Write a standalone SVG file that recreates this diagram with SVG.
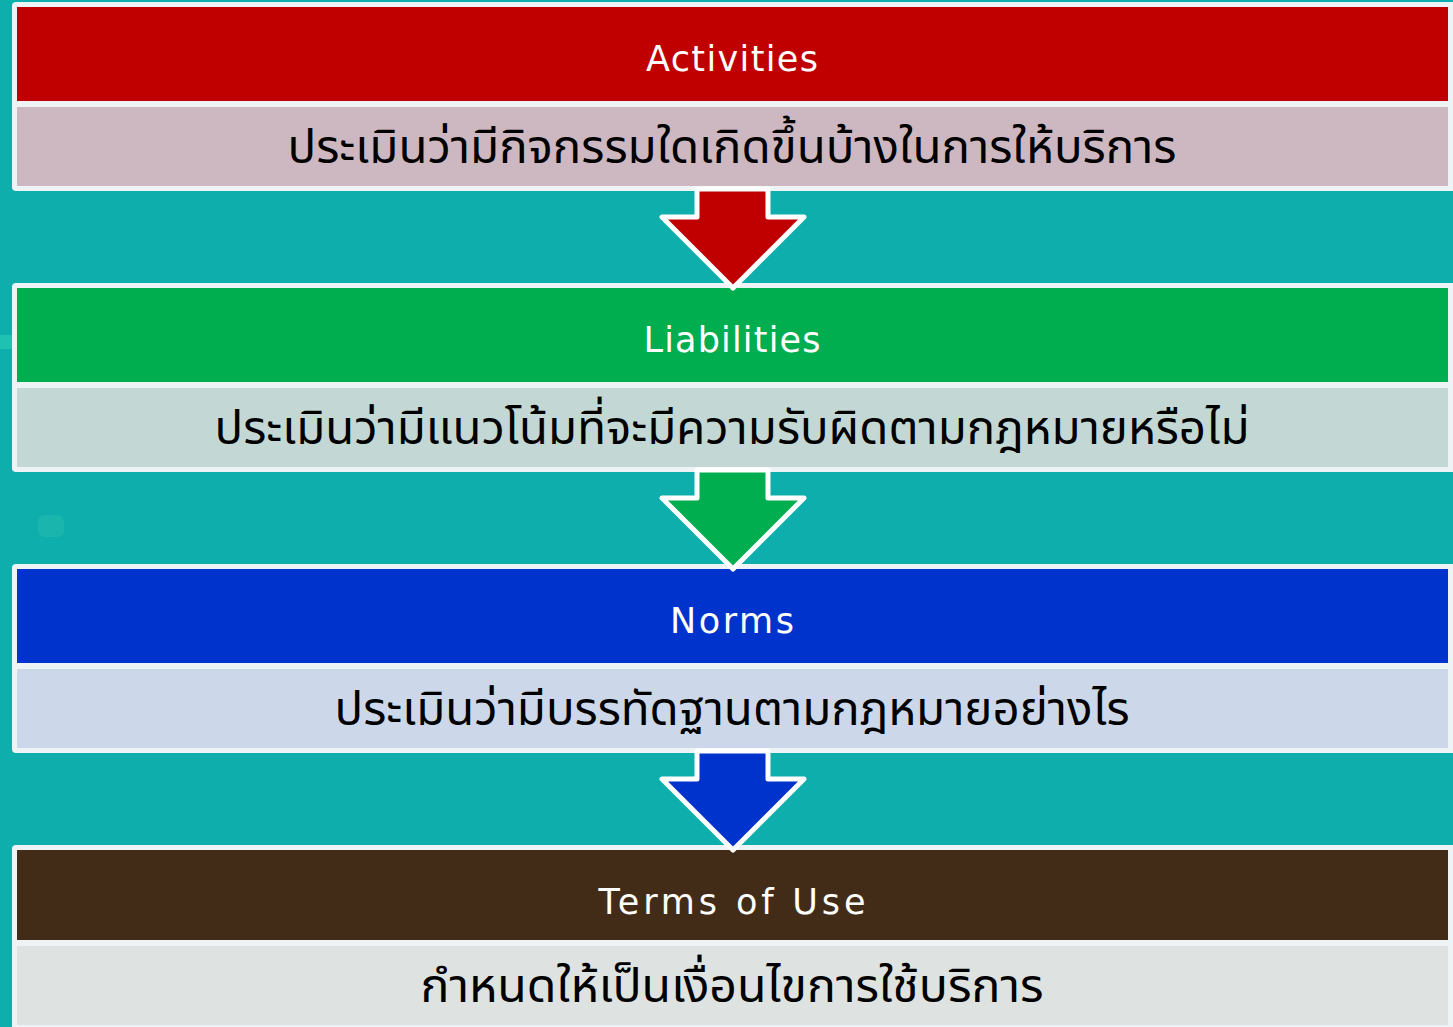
<svg xmlns="http://www.w3.org/2000/svg" width="1453" height="1027" viewBox="0 0 1453 1027">
<style>
.frame{fill:#eef3f5}
.hd{font-family:"DejaVu Sans","Liberation Sans",sans-serif;font-size:35px;fill:#ffffff;text-anchor:middle}
.bd{font-family:"Noto Sans Thai","Noto Sans","DejaVu Sans",sans-serif;font-size:47px;fill:#000000;text-anchor:middle}
.arr{stroke:#ffffff;stroke-width:5;stroke-linejoin:round}
</style>
<rect x="0" y="0" width="1453" height="1027" fill="#0eaead"/>
<rect x="0" y="335" width="12" height="14" fill="#2fd3b8" opacity="0.5"/>
<rect x="38" y="515" width="26" height="22" rx="6" fill="#3fcfb0" opacity="0.25"/>
<g id="activities">
<rect class="frame" x="12" y="2" width="1450" height="189" rx="4"/>
<rect x="17" y="7" width="1431" height="94" fill="#c00000"/>
<rect x="17" y="107" width="1431" height="79" fill="#cdb8c1"/>
<text class="hd" x="732" y="71" textLength="172" lengthAdjust="spacing">Activities</text>
<text class="bd" x="732" y="163" textLength="889" lengthAdjust="spacingAndGlyphs">ประเมินว่ามีกิจกรรมใดเกิดขึ้นบ้างในการให้บริการ</text>
</g>
<g id="liabilities">
<rect class="frame" x="12" y="283" width="1450" height="189" rx="4"/>
<rect x="17" y="288" width="1431" height="94" fill="#00ae50"/>
<rect x="17" y="388" width="1431" height="79" fill="#c3d8d5"/>
<text class="hd" x="732" y="352" textLength="177" lengthAdjust="spacing">Liabilities</text>
<text class="bd" x="732" y="444" textLength="1035" lengthAdjust="spacingAndGlyphs">ประเมินว่ามีแนวโน้มที่จะมีความรับผิดตามกฎหมายหรือไม่</text>
</g>
<g id="norms">
<rect class="frame" x="12" y="564" width="1450" height="189" rx="4"/>
<rect x="17" y="569" width="1431" height="94" fill="#0033cc"/>
<rect x="17" y="669" width="1431" height="79" fill="#ccd8ea"/>
<text class="hd" x="732" y="633" textLength="124" lengthAdjust="spacing">Norms</text>
<text class="bd" x="732" y="725" textLength="795" lengthAdjust="spacingAndGlyphs">ประเมินว่ามีบรรทัดฐานตามกฎหมายอย่างไร</text>
</g>
<g id="terms">
<rect class="frame" x="12" y="845" width="1450" height="190" rx="4"/>
<rect x="17" y="850" width="1431" height="90" fill="#432c17"/>
<rect x="17" y="946" width="1431" height="79" fill="#dee2e1"/>
<text class="hd" x="732" y="914" textLength="267" lengthAdjust="spacing">Terms of Use</text>
<text class="bd" x="732" y="1002" textLength="623" lengthAdjust="spacingAndGlyphs">กำหนดให้เป็นเงื่อนไขการใช้บริการ</text>
</g>
<g id="connectors">
<path class="arr" fill="#c00000" d="M697,189 L768,189 L768,217 L804,217 L733,288 L662,217 L697,217 Z"/>
<path class="arr" fill="#00ae50" d="M697,470 L768,470 L768,498 L804,498 L733,569 L662,498 L697,498 Z"/>
<path class="arr" fill="#0033cc" d="M697,751 L768,751 L768,779 L804,779 L733,850 L662,779 L697,779 Z"/>
</g>
</svg>
